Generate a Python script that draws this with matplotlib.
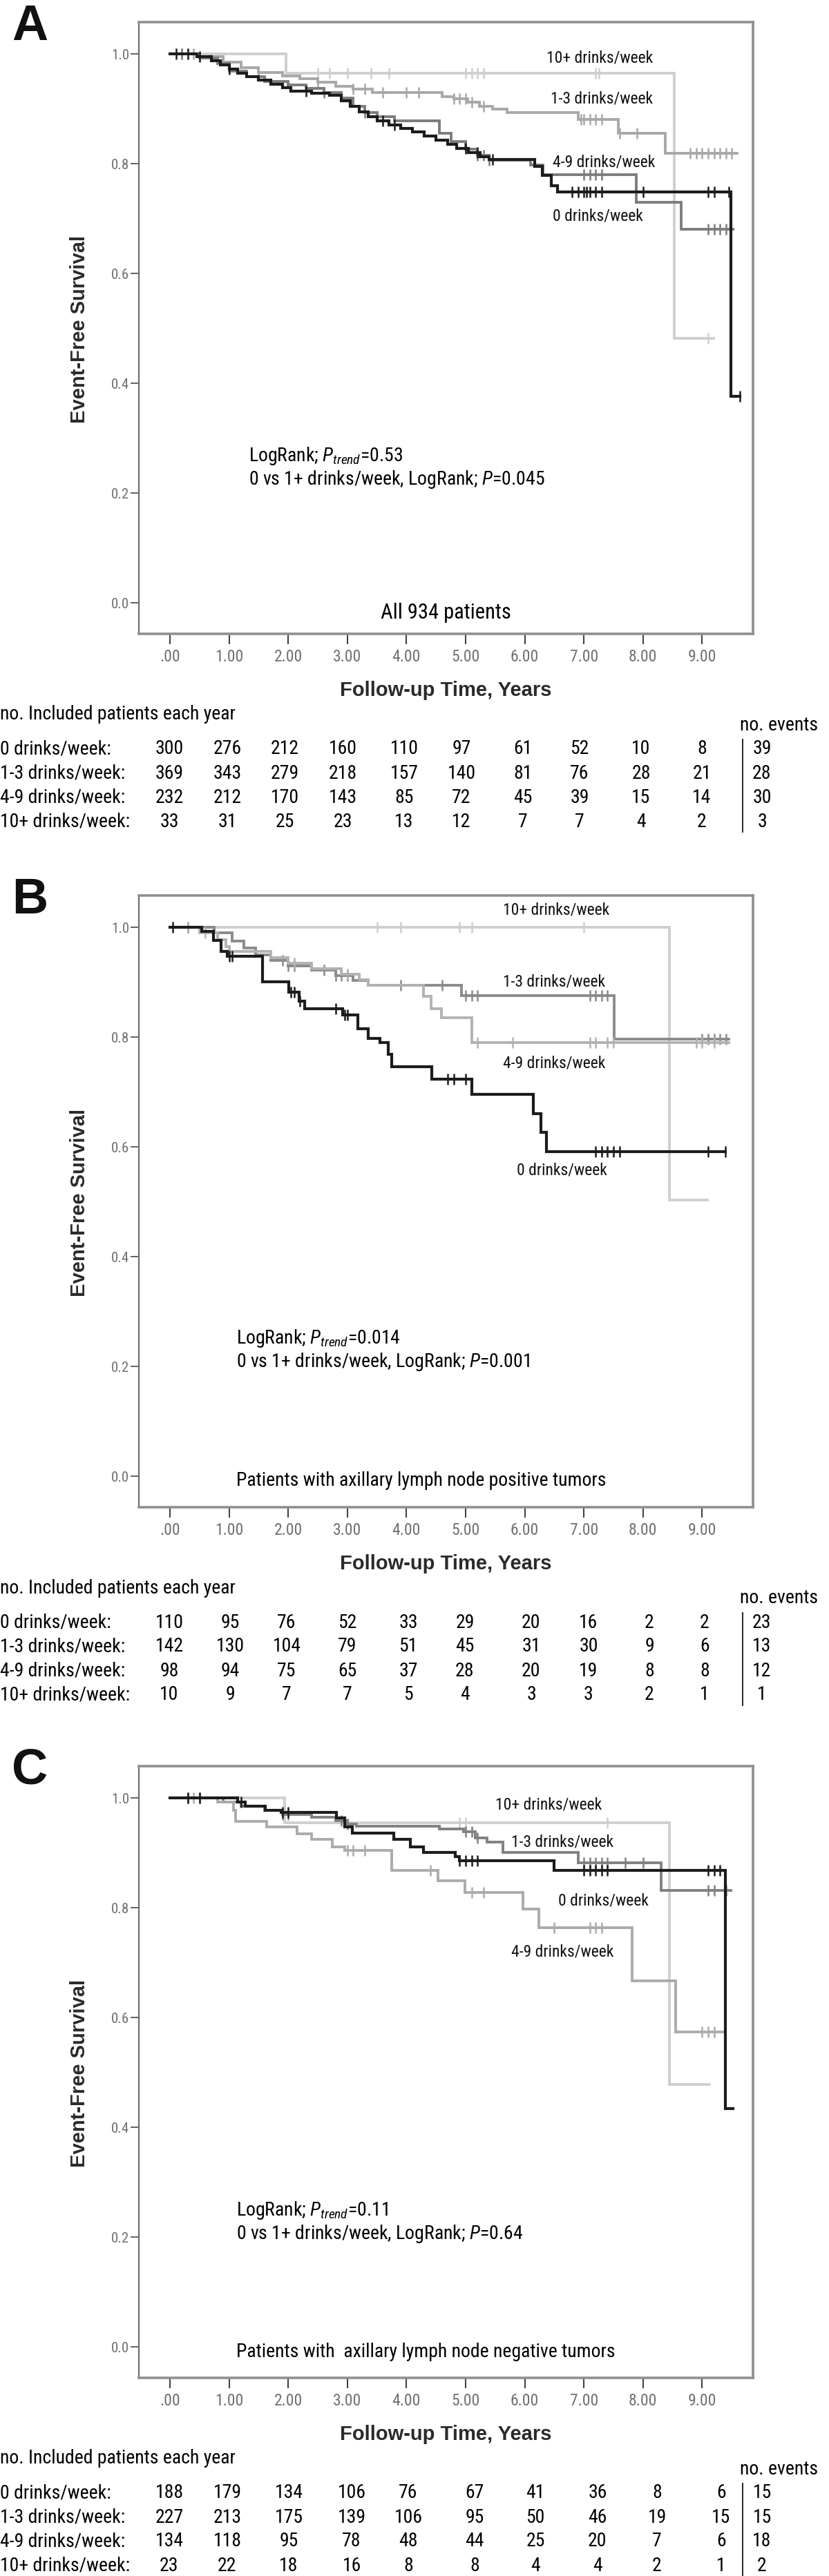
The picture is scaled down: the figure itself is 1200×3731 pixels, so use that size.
import numpy as np
import matplotlib
matplotlib.use('Agg')
import matplotlib.pyplot as plt
from matplotlib import font_manager
from matplotlib.lines import Line2D

# ---- data -------------------------------------------------------------
groups = ['0 drinks/week', '1-3 drinks/week', '4-9 drinks/week', '10+ drinks/week']
row_labels = ['0 drinks/week:', '1-3 drinks/week:', '4-9 drinks/week:', '10+ drinks/week:']
years = np.arange(10)
year_labels = ['.00', '1.00', '2.00', '3.00', '4.00', '5.00', '6.00', '7.00', '8.00', '9.00']
surv_ticks = [0.0, 0.2, 0.4, 0.6, 0.8, 1.0]

# panel A - all patients
a_t0 = [0, 0.45, 0.7, 0.85, 1.0, 1.15, 1.3, 1.5, 1.7, 1.9, 2.05, 2.4, 2.7, 2.9, 3.05, 3.2, 3.35, 3.5,
        3.7, 3.9, 4.1, 4.3, 4.5, 4.7, 4.85, 5.05, 5.25, 5.4, 6.17, 6.3, 6.45, 6.55, 9.49]
a_s0 = [1.0, 0.995, 0.988, 0.98, 0.972, 0.965, 0.958, 0.952, 0.945, 0.938, 0.932, 0.928, 0.924, 0.915,
        0.905, 0.895, 0.886, 0.878, 0.870, 0.864, 0.858, 0.850, 0.843, 0.835, 0.828, 0.820, 0.813,
        0.808, 0.795, 0.779, 0.760, 0.748, 0.376]
a_t13 = [0, 0.5, 0.9, 1.2, 1.5, 1.9, 2.2, 2.5, 2.8, 3.1, 3.42, 4.6, 4.8, 5.03, 5.23, 5.45, 5.7, 6.91, 7.58, 8.38]
a_s13 = [1.0, 0.995, 0.985, 0.975, 0.966, 0.96, 0.955, 0.948, 0.941, 0.936, 0.93, 0.922, 0.918, 0.912,
         0.905, 0.899, 0.893, 0.88, 0.855, 0.819]
a_t49 = [0, 0.5, 0.8, 1.0, 1.3, 1.6, 2.0, 2.3, 2.6, 2.9, 3.1, 3.3, 3.5, 3.8, 4.56, 4.75, 5.0, 5.2, 5.4,
         6.1, 6.31, 7.88, 8.65]
a_s49 = [1.0, 0.993, 0.982, 0.968, 0.958, 0.95, 0.943, 0.937, 0.93, 0.92, 0.905, 0.893, 0.885, 0.878,
         0.855, 0.84, 0.826, 0.815, 0.806, 0.797, 0.78, 0.729, 0.681]
a_t10 = [0, 1.96, 8.53]
a_s10 = [1.0, 0.965, 0.482]
a_end = [9.64, 9.59, 9.52, 9.19]
a_c0 = [0.1, 0.3, 0.5, 1.0, 2.3, 3.6, 3.8, 5.0, 5.2, 5.45, 6.8, 6.9, 7.0, 7.05, 7.1, 7.2, 7.3, 8.0, 9.1, 9.2, 9.45, 9.64]
a_c13 = [0.2, 0.4, 1.5, 2.5, 3.1, 3.3, 3.6, 4.0, 4.2, 4.8, 4.9, 5.0, 5.1, 5.3, 6.95, 7.0, 7.1, 7.2, 7.3,
         7.6, 7.9, 8.8, 8.9, 9.0, 9.1, 9.2, 9.3, 9.4, 9.5]
a_c49 = [0.2, 2.6, 3.3, 3.5, 5.2, 5.3, 5.4, 7.0, 7.1, 7.2, 7.3, 9.1, 9.2, 9.3, 9.4]
a_c10 = [0.3, 2.5, 2.7, 3.0, 3.4, 3.7, 5.0, 5.1, 5.2, 5.3, 7.2, 7.25, 9.1]
a_risk = [[300, 276, 212, 160, 110, 97, 61, 52, 10, 8],
          [369, 343, 279, 218, 157, 140, 81, 76, 28, 21],
          [232, 212, 170, 143, 85, 72, 45, 39, 15, 14],
          [33, 31, 25, 23, 13, 12, 7, 7, 4, 2]]
a_events = [39, 28, 30, 3]

# panel B - node positive
b_t0 = [0, 0.54, 0.74, 0.87, 0.97, 1.57, 2.01, 2.18, 2.28, 2.92, 3.18, 3.35, 3.55, 3.69, 3.75, 4.43,
        5.1, 6.14, 6.27, 6.37]
b_s0 = [1.0, 0.993, 0.976, 0.956, 0.947, 0.901, 0.882, 0.865, 0.851, 0.84, 0.815, 0.798, 0.79, 0.769,
        0.746, 0.723, 0.696, 0.66, 0.626, 0.591]
b_t13 = [0, 0.75, 1.05, 1.25, 1.45, 1.7, 2.0, 2.4, 2.8, 3.1, 3.35, 4.93, 7.51]
b_s13 = [1.0, 0.99, 0.975, 0.962, 0.95, 0.94, 0.93, 0.922, 0.912, 0.903, 0.895, 0.876, 0.796]
b_t49 = [0, 0.5, 0.8, 0.95, 1.0, 1.7, 2.0, 2.4, 2.9, 3.2, 3.35, 4.29, 4.42, 4.59, 5.1]
b_s49 = [1.0, 0.99, 0.978, 0.965, 0.956, 0.945, 0.935, 0.925, 0.915, 0.905, 0.895, 0.874, 0.851, 0.835, 0.79]
b_t10 = [0, 8.45]
b_s10 = [1.0, 0.503]
b_end = [9.39, 9.45, 9.45, 9.09]
b_c0 = [0.05, 1.0, 1.05, 2.05, 2.1, 2.2, 2.8, 2.95, 3.0, 4.7, 4.8, 5.0, 7.2, 7.3, 7.4, 7.5, 7.6, 9.1, 9.39]
b_c13 = [0.3, 1.9, 2.0, 2.1, 2.6, 2.8, 2.9, 3.0, 3.9, 4.6, 5.0, 5.1, 5.2, 7.1, 7.2, 7.3, 7.4, 9.0,
         9.1, 9.2, 9.3, 9.4]
b_c49 = [0.3, 0.6, 1.0, 2.1, 3.0, 5.2, 5.8, 7.1, 7.2, 7.4, 7.5, 8.9, 9.0, 9.2]
b_c10 = [0.3, 3.5, 3.9, 4.9, 5.1, 7.0]
b_risk = [[110, 95, 76, 52, 33, 29, 20, 16, 2, 2],
          [142, 130, 104, 79, 51, 45, 31, 30, 9, 6],
          [98, 94, 75, 65, 37, 28, 20, 19, 8, 8],
          [10, 9, 7, 7, 5, 4, 3, 3, 2, 1]]
b_events = [23, 13, 12, 1]

# panel C - node negative
c_t0 = [0, 1.14, 1.27, 1.61, 1.88, 2.81, 2.95, 3.08, 3.79, 4.06, 4.29, 4.83, 4.89, 6.5, 9.39]
c_s0 = [1.0, 0.993, 0.985, 0.978, 0.974, 0.964, 0.947, 0.936, 0.924, 0.911, 0.901, 0.893, 0.886, 0.868, 0.434]
c_t13 = [0, 0.9, 1.2, 1.6, 1.9, 2.4, 2.8, 3.0, 3.15, 4.56, 4.96, 5.16, 5.36, 5.63, 6.91, 8.31]
c_s13 = [1.0, 0.993, 0.985, 0.977, 0.97, 0.965, 0.958, 0.952, 0.949, 0.944, 0.938, 0.927, 0.92, 0.901,
         0.882, 0.832]
c_t49 = [0, 0.8, 1.07, 1.11, 1.64, 2.15, 2.4, 2.75, 2.95, 3.75, 4.53, 4.99, 5.97, 6.24, 7.81, 8.55]
c_s49 = [1.0, 0.993, 0.977, 0.957, 0.947, 0.934, 0.925, 0.911, 0.905, 0.868, 0.849, 0.828, 0.797, 0.763,
         0.667, 0.574]
c_t10 = [0, 1.94, 8.45]
c_s10 = [1.0, 0.955, 0.478]
c_end = [9.52, 9.49, 9.35, 9.12]
c_c0 = [0.3, 0.5, 1.2, 1.9, 2.0, 4.9, 5.0, 5.1, 5.2, 7.0, 7.1, 7.2, 7.3, 7.4, 9.1, 9.2, 9.3]
c_c13 = [0.3, 0.5, 1.9, 2.0, 2.9, 3.0, 5.0, 5.1, 5.2, 7.0, 7.1, 7.2, 7.3, 7.4, 7.7, 8.0, 9.1, 9.2, 9.4]
c_c49 = [0.4, 3.0, 3.1, 3.3, 4.4, 5.1, 5.3, 6.5, 7.1, 7.2, 7.3, 9.0, 9.1, 9.2]
c_c10 = [0.5, 4.9, 5.0, 7.4]
c_risk = [[188, 179, 134, 106, 76, 67, 41, 36, 8, 6],
          [227, 213, 175, 139, 106, 95, 50, 46, 19, 15],
          [134, 118, 95, 78, 48, 44, 25, 20, 7, 6],
          [23, 22, 18, 16, 8, 8, 4, 4, 2, 1]]
c_events = [15, 15, 18, 2]

# ---- fonts -------------------------------------------------------------
names = {f.name for f in font_manager.fontManager.ttflist}
NARROW = next((f for f in ['Liberation Sans Narrow', 'Roboto Condensed', 'Open Sans Condensed',
                           'Lato', 'Liberation Sans'] if f in names), 'DejaVu Sans')
BOLD = 'Liberation Sans' if 'Liberation Sans' in names else 'DejaVu Sans'
plt.rcParams['font.family'] = [NARROW, 'DejaVu Sans']
plt.rcParams['mathtext.fontset'] = 'custom'
plt.rcParams['mathtext.rm'] = NARROW
plt.rcParams['mathtext.it'] = NARROW + ':italic'

W, H = 1200, 3731
fig = plt.figure(figsize=(W / 100, H / 100), dpi=100)
fig.patch.set_facecolor('white')

TXT = 20


def fx(x):
    return x / W


def fy(y):
    return 1 - y / H


def draw_panel(off, letter, curves, ends, censors, colors, lab_pos, stats, stats_xy,
               bottom, bottom_xy, bottom_ha, bottom_fs, risk, events, col_x):
    ax = fig.add_axes([fx(201), fy(918 + off), 889 / W, 886 / H])
    ax.set_xlim(-0.526, 9.86)
    ax.set_ylim(-0.0566, 1.0579)
    # lightest first, black on top
    for i in [3, 1, 2, 0]:
        t, s = curves[i]
        ax.step(np.append(t, ends[i]), np.append(s, s[-1]), where='post',
                color=colors[i], lw=3.0 if i == 0 else 2.8, solid_joinstyle='miter')
        ct = np.array(censors[i])
        idx = np.searchsorted(t, ct, side='right') - 1
        ax.plot(ct, np.asarray(s)[idx], ls='none', marker='|', ms=11, mew=1.8, color=colors[i])
    for i, g in enumerate(groups):
        ax.text(lab_pos[i][0], lab_pos[i][1], g, fontsize=17, va='center', ha='left', color='#111111')

    ax.set_xticks(years)
    ax.set_xticklabels(year_labels, fontsize=17, color='#707070')
    ax.set_yticks(surv_ticks)
    ax.set_yticklabels(['%.1f' % v for v in surv_ticks], fontsize=15, color='#707070')
    ax.tick_params(axis='x', direction='out', length=11, width=1.5, color='#444444', pad=5)
    ax.tick_params(axis='y', direction='out', length=8.5, width=1.3, color='#555555', pad=1.5)
    for side in ['top', 'right', 'bottom']:
        ax.spines[side].set_color('#8f8f8f')
        ax.spines[side].set_linewidth(2.6)
    ax.spines['left'].set_color('#6f6f6f')
    ax.spines['left'].set_linewidth(1.6)

    fig.text(fx(17), fy(58 + off), letter, fontsize=52, fontweight='bold', family=BOLD,
             ha='left', va='baseline', color='#111111')
    fig.text(fx(115), fy(477 + off), 'Event-Free Survival', rotation=90, fontsize=21,
             fontweight='bold', family=BOLD, ha='center', va='center', color='#2a2a2a')
    fig.text(fx(645), fy(1000 + off), 'Follow-up Time, Years', fontsize=21, fontweight='bold',
             family=BOLD, ha='center', va='center', color='#2a2a2a')

    fig.text(fx(stats_xy[0]), fy(stats_xy[1] + off), stats[0], fontsize=TXT, ha='left', va='baseline')
    fig.text(fx(stats_xy[0]), fy(stats_xy[1] + 34 + off), stats[1], fontsize=TXT, ha='left', va='baseline')
    fig.text(fx(bottom_xy[0]), fy(bottom_xy[1] + off), bottom, fontsize=bottom_fs, ha=bottom_ha,
             va='center')

    # numbers at risk table
    fig.text(fx(0), fy(1035 + off), 'no. Included patients each year', fontsize=TXT, ha='left', va='center')
    fig.text(fx(1071), fy(1050 + off), 'no. events', fontsize=TXT, ha='left', va='center')
    for r in range(4):
        y = 1085 + 35 * r + off
        fig.text(fx(0), fy(y), row_labels[r], fontsize=TXT, ha='left', va='center')
        for k in range(10):
            fig.text(fx(col_x[k]), fy(y), str(risk[r][k]), fontsize=TXT, ha='center', va='center')
        fig.text(fx(1103), fy(y), str(events[r]), fontsize=TXT, ha='center', va='center')
    fig.add_artist(Line2D([fx(1075), fx(1075)], [fy(1071 + off), fy(1205 + off)], color='#111111', lw=1.3))
    return ax


cols_a = ['#1c1c1c', '#a8a8a8', '#7c7c7c', '#cfcfcf']
cols_b = ['#1c1c1c', '#8a8a8a', '#b2b2b2', '#cfcfcf']
cols_c = ['#1c1c1c', '#818181', '#ababab', '#cfcfcf']

draw_panel(0, 'A',
           [(a_t0, a_s0), (a_t13, a_s13), (a_t49, a_s49), (a_t10, a_s10)], a_end,
           [a_c0, a_c13, a_c49, a_c10], cols_a,
           [(6.47, 0.704), (6.44, 0.918), (6.47, 0.803), (6.37, 0.993)],
           ['LogRank; $P_{trend}$=0.53', '0 vs 1+ drinks/week, LogRank; $P$=0.045'], (360, 668),
           'All 934 patients', (645, 887), 'center', 22,
           a_risk, a_events, [245, 329, 412, 496, 585, 668, 757, 839, 928, 1016])

draw_panel(1265, 'B',
           [(b_t0, b_s0), (b_t13, b_s13), (b_t49, b_s49), (b_t10, b_s10)], b_end,
           [b_c0, b_c13, b_c49, b_c10], cols_b,
           [(5.86, 0.557), (5.63, 0.901), (5.63, 0.752), (5.63, 1.031)],
           ['LogRank; $P_{trend}$=0.014', '0 vs 1+ drinks/week, LogRank; $P$=0.001'], (342, 681),
           'Patients with axillary lymph node positive tumors', (342, 879), 'left', TXT,
           b_risk, b_events, [245, 333, 415, 503, 591, 673, 769, 852, 940, 1020])

draw_panel(2526, 'C',
           [(c_t0, c_s0), (c_t13, c_s13), (c_t49, c_s49), (c_t10, c_s10)], c_end,
           [c_c0, c_c13, c_c49, c_c10], cols_c,
           [(6.57, 0.813), (5.77, 0.920), (5.77, 0.719), (5.50, 0.987)],
           ['LogRank; $P_{trend}$=0.11', '0 vs 1+ drinks/week, LogRank; $P$=0.64'], (342, 683),
           'Patients with  axillary lymph node negative tumors', (342, 881), 'left', TXT,
           c_risk, c_events, [245, 329, 418, 509, 591, 687, 775, 865, 951, 1044])

fig.savefig('out.png', dpi=100, facecolor='white')
